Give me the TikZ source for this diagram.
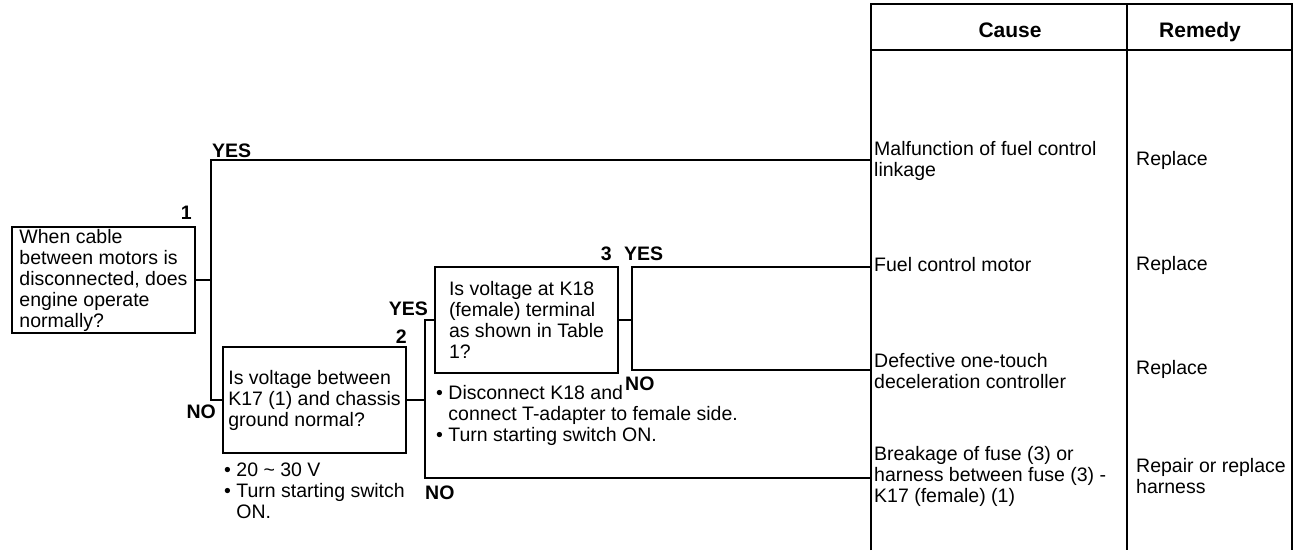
\documentclass[tikz,border=0pt]{standalone}
\usepackage{fontspec}
\setmainfont{Liberation Sans}
\usetikzlibrary{positioning}

\newcommand{\bul}{\textbullet\ }

\begin{document}
\begin{tikzpicture}[x=1pt, y=-1pt, line width=2.4pt,
  txt/.style = {font=\fontsize{19.5}{21}\selectfont},
  main/.style = {txt, draw, rectangle, minimum height=106pt, minimum width=183pt, inner xsep=0pt, inner ysep=0pt, align=left},
  lbl/.style = {font=\bfseries\fontsize{19.5}{19.5}\selectfont, inner sep=0pt},
  note/.style = {txt, align=left, inner sep=0pt},
  cell/.style = {txt, align=left, inner sep=0pt, anchor=west},
  grid/.style = {line width=2pt}]

\useasboundingbox (0,0) rectangle (1297,550);

% questions
\node[main] (q1) at (103.5,280) {When cable\\between motors is\\disconnected, does\\engine operate\\normally?};
\node[main] (q2) at (314.5,400) {Is voltage between\\K17 (1) and chassis\\ground normal?};
\node[main] (q3) at (526.5,320) {Is voltage at K18\\(female) terminal\\as shown in Table\\1?};

\node[lbl, anchor=base east] (n1) at (193,219) {1};
\node[lbl, anchor=base east] (n2) at (408,343) {2};
\node[lbl, anchor=base east] (n3) at (613,260) {3};

% notes under the boxes
\node[note, anchor=north west] (m2) at (223,462) {\bul 20 \textasciitilde\ 30 V\\\bul Turn starting switch\\\hphantom{\bul}ON.};
\node[note, anchor=north west] (m3) at (435,384) {\bul Disconnect K18 and\\\hphantom{\bul}connect T-adapter to female side.\\\bul Turn starting switch ON.};

% table
\draw[grid] (871,550) -- (871,4) -- (1292,4) -- (1292,550);
\draw[grid] (1127,4) -- (1127,550);
\draw[grid] (871,50) -- (1292,50);
\node[lbl, font=\bfseries\fontsize{21}{21}\selectfont] (hc) at (1010,30) {Cause};
\node[lbl, font=\bfseries\fontsize{21}{21}\selectfont, anchor=base] (hr) at (1200,37) {Remedy};

\coordinate (r1) at (871,160);
\coordinate (r2) at (871,267);
\coordinate (r3) at (871,370);
\coordinate (r4) at (871,478);

\node[cell] (c1) at (873,161) {Malfunction of fuel control\\linkage};
\node[cell] (c2) at (873,265) {Fuel control motor};
\node[cell] (c3) at (873,371) {Defective one-touch\\deceleration controller};
\node[cell] (c4) at (873,476) {Breakage of fuse (3) or\\harness between fuse (3) -\\K17 (female) (1)};

\node[cell] (d1) at (1135,160) {Replace};
\node[cell] (d2) at (1135,265) {Replace};
\node[cell] (d3) at (1135,369) {Replace};
\node[cell] (d4) at (1135,476) {Repair or replace\\harness};

% connectors
\coordinate (j1) at (211,280);
\coordinate (j2) at (425,400);
\coordinate (j3) at (632,320);

\draw (q1.east) -- (j1);
\draw (r1) -- (j1 |- r1) -- (j1 |- q2.west) -- (q2.west);
\draw (q2.east) -- (j2);
\draw (q3.west) -- (j2 |- q3.west) -- (j2 |- r4) -- (r4);
\draw (q3.east) -- (j3);
\draw (r2) -- (j3 |- r2) -- (j3 |- r3) -- (r3);

\node[lbl, anchor=base west] (y1) at (211,157) {YES};
\node[lbl, anchor=base east] (o1) at (217,418) {NO};
\node[lbl, anchor=base east] (y2) at (429,315) {YES};
\node[lbl, anchor=base west] (o2) at (424,499) {NO};
\node[lbl, anchor=base west] (y3) at (623,260) {YES};
\node[lbl, anchor=base west] (o3) at (624,390) {NO};

\end{tikzpicture}
\end{document}
